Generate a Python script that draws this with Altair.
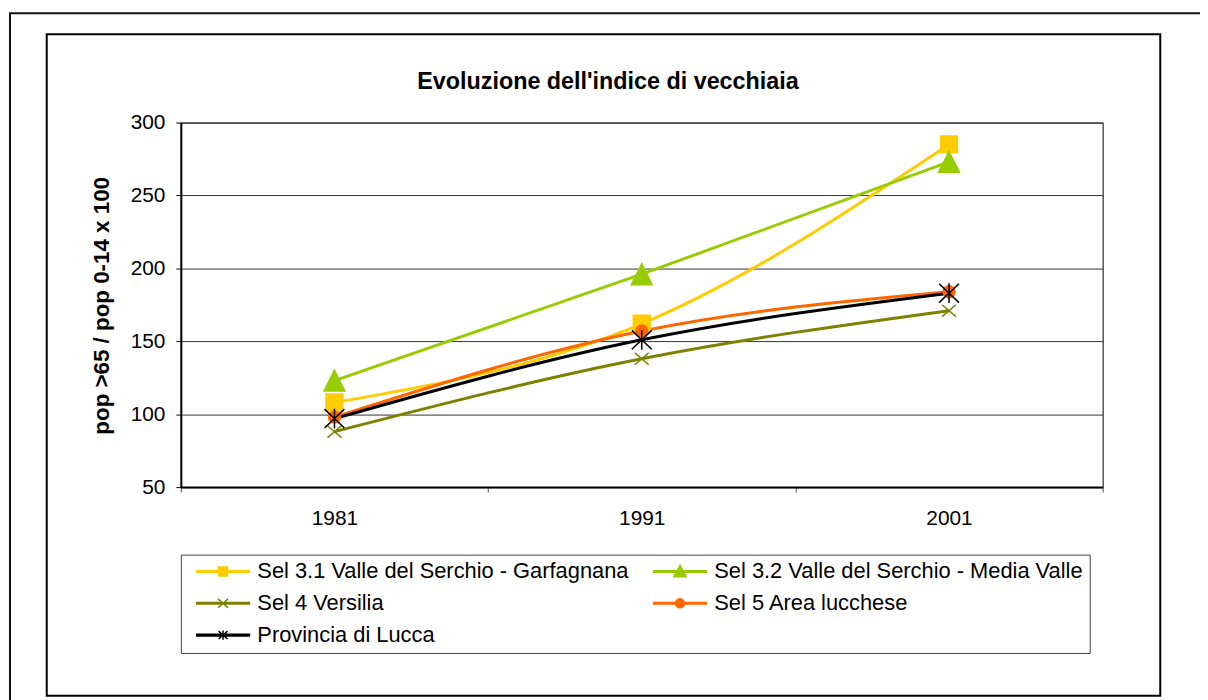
import altair as alt
import pandas as pd

# ---------------- data ----------------
years = ["1981", "1991", "2001"]
series_names = [
    "Sel 3.1 Valle del Serchio - Garfagnana",
    "Sel 3.2 Valle del Serchio - Media Valle",
    "Sel 4 Versilia",
    "Sel 5 Area lucchese",
    "Provincia di Lucca",
]
garfagnana = [108, 162, 285]
media_valle = [123, 196, 273]
versilia = [88, 138, 171]
area_lucchese = [98, 157, 184]
provincia = [97, 151, 183]
y_ticks = [50, 100, 150, 200, 250, 300]

chart_title = "Evoluzione dell'indice di vecchiaia"
y_title = "pop >65 / pop 0-14 x 100"

# ---------------- styles ----------------
colors = ["#FFCC00", "#99CC00", "#808000", "#FF6600", "#000000"]
FONT = "Liberation Sans"

# marker shapes in plot (unit square scaled by sqrt(size)/2 = 10 px)
marker_paths = [
    "M-0.85,-0.85H0.85V0.85H-0.85Z",                     # square
    "M0,-1.05L1.05,1.05L-1.05,1.05Z",                    # triangle
    "M-0.7,-0.6L0.7,0.6M-0.7,0.6L0.7,-0.6",              # x
    "M0.6,0A0.6,0.6,0,1,1,-0.6,0A0.6,0.6,0,1,1,0.6,0Z",  # circle
    "M-1,-0.95L1,0.95M-1,0.95L1,-0.95M0,-1L0,1",         # asterisk
]
# legend symbols: line + small marker (scale 26.5 px)
LINE = "M-1,-0.03H1V0.03H-1Z"
legend_paths = [
    LINE + "M-0.17,-0.17H0.17V0.17H-0.17Z",
    LINE + "M0,-0.24L0.24,0.2L-0.24,0.2Z",
    LINE + "M-0.19,-0.17L0.19,0.17M-0.19,0.17L0.19,-0.17",
    LINE + "M0.17,0A0.17,0.17,0,1,1,-0.17,0A0.17,0.17,0,1,1,0.17,0Z",
    LINE + "M-0.17,-0.15L0.17,0.15M-0.17,0.15L0.17,-0.15M0,-0.18L0,0.18",
]

all_values = [garfagnana, media_valle, versilia, area_lucchese, provincia]
rows = []
for name, vals in zip(series_names, all_values):
    for yr, v in zip(years, vals):
        rows.append({"series": name, "year": yr, "value": v})
df = pd.DataFrame(rows)


def color_scale():
    return alt.Scale(domain=series_names, range=colors)


x_enc = alt.X(
    "year:O",
    scale=alt.Scale(type="band", domain=years, paddingInner=0, paddingOuter=0),
    axis=alt.Axis(
        title=None, labelAngle=0, tickBand="extent", grid=False,
        labelPadding=16, tickSize=5, tickColor="#555",
        domainColor="#000", domainWidth=2,
    ),
)
y_enc = alt.Y(
    "value:Q",
    scale=alt.Scale(domain=[50, 300], nice=False, zero=False),
    axis=alt.Axis(
        values=y_ticks, title=y_title, grid=True, gridColor="#333", gridWidth=1,
        tickSize=5, tickColor="#000", labelPadding=11,
        domainColor="#000", domainWidth=2,
        titleFont=FONT, titleFontSize=22.5, titleFontWeight="bold",
        titleAngle=270, titleX=-73, titleY=184, titleAlign="center",
        titleBaseline="alphabetic", titleColor="#000",
    ),
)

base = alt.Chart(df)

lines = base.mark_line(strokeWidth=3, interpolate="monotone").encode(
    x=x_enc, y=y_enc,
    color=alt.Color("series:N", scale=color_scale(), legend=None),
)

points = base.mark_point(filled=True, opacity=1, size=400, strokeWidth=1.5).encode(
    x=x_enc, y=y_enc,
    color=alt.Color("series:N", scale=color_scale(), legend=None),
    stroke=alt.Stroke("series:N", scale=color_scale(), legend=None),
    shape=alt.Shape("series:N", scale=alt.Scale(domain=series_names, range=marker_paths), legend=None),
)

legend_props = dict(
    title=None, orient="none", legendX=0, legendY=435,
    direction="horizontal", columns=2, symbolSize=2809, clipHeight=20,
    labelFont=FONT, labelFontSize=22, labelColor="#000", labelLimit=700,
    labelOffset=7, symbolOffset=8, columnPadding=16, rowPadding=10,
    padding=7, strokeColor="#444", fillColor="#ffffff",
    symbolStrokeWidth=1.5, symbolOpacity=1,
)

# legend-only layer: no visible marks, explicit domains keep all entries
legend_layer = base.mark_point(filled=True, opacity=1, strokeWidth=1.5).encode(
    x=x_enc, y=y_enc,
    color=alt.Color("series:N", scale=color_scale(), legend=alt.Legend(**legend_props)),
    stroke=alt.Stroke("series:N", scale=color_scale(), legend=alt.Legend(**legend_props)),
    shape=alt.Shape("series:N", scale=alt.Scale(domain=series_names, range=legend_paths),
                    legend=alt.Legend(**legend_props)),
).transform_filter("datum.value < 0")

frame_data = alt.Data(values=[{"k": 0}])
outer_frame = alt.Chart(frame_data).mark_rect(filled=False, color="#111", strokeWidth=2).encode(
    x=alt.value(-172), x2=alt.value(1040), y=alt.value(-110), y2=alt.value(620)
)
inner_frame = alt.Chart(frame_data).mark_rect(filled=False, color="#000", strokeWidth=2).encode(
    x=alt.value(-135), x2=alt.value(986), y=alt.value(-89), y2=alt.value(577)
)

title_data = alt.Data(values=[{"t": chart_title}])
title_mark = alt.Chart(title_data).mark_text(
    font=FONT, fontSize=23.5, fontWeight="bold", color="#000",
    align="center", baseline="alphabetic",
).encode(text="t:N", x=alt.value(430), y=alt.value(-34))

chart = alt.layer(outer_frame, inner_frame, title_mark, lines, points, legend_layer).resolve_scale(
    shape="independent", color="independent", stroke="independent"
).properties(
    width=928,
    height=367,
    autosize=alt.AutoSizeParams(type="none"),
    padding={"left": 174, "top": 113, "right": 98, "bottom": 212},
    background="#ffffff",
).configure_view(stroke="#000", strokeWidth=1).configure_axis(
    labelFont=FONT, labelFontSize=21, labelColor="#000"
)

chart.save("out.html", embed_options={"renderer": "svg", "actions": False})
